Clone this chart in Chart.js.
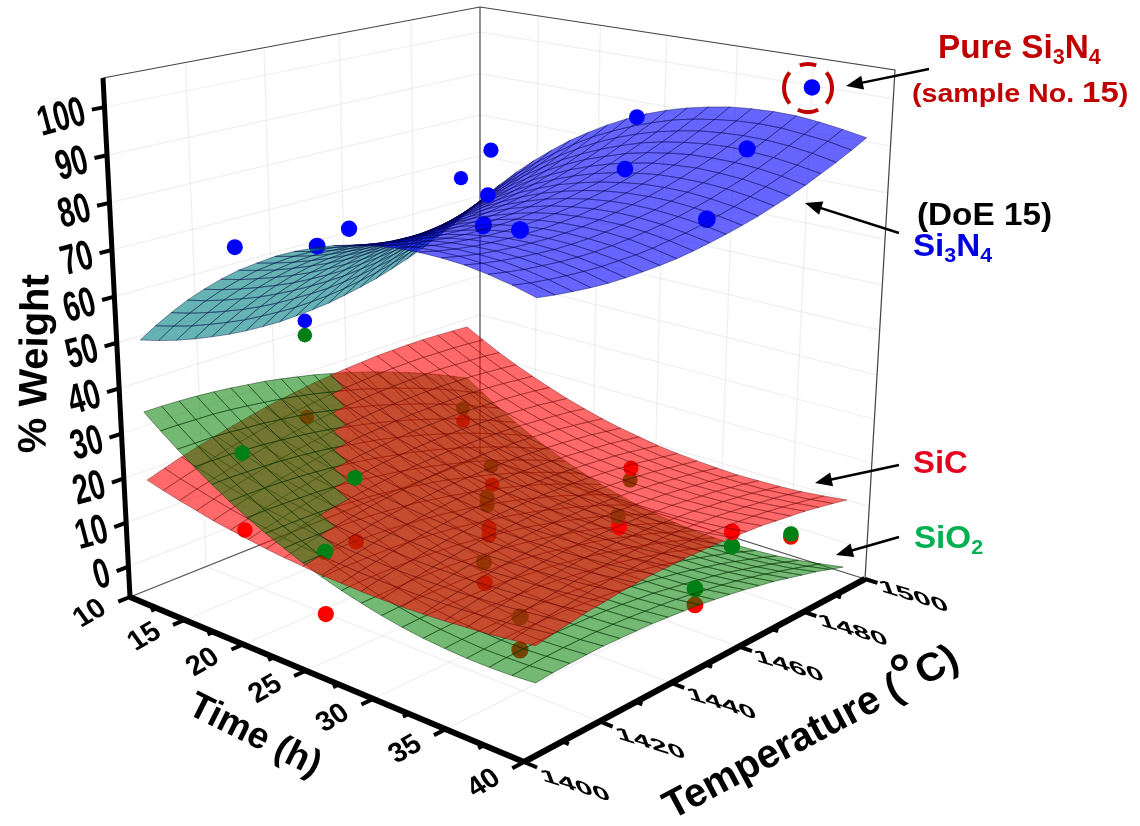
<!DOCTYPE html>
<html>
<head>
<meta charset="utf-8">
<style>html,body{margin:0;background:#fff}canvas{display:block}</style>
<script src="https://cdn.jsdelivr.net/npm/chart.js@4"></script>
</head>
<body>
<canvas id="c" width="1140" height="826"></canvas>
<script>
const weightTicks = [0, 10, 20, 30, 40, 50, 60, 70, 80, 90, 100];
const timeTicks = [10, 15, 20, 25, 30, 35, 40];
const tempTicks = [1400, 1420, 1440, 1460, 1480, 1500];

// grid of the fitted surfaces
const gridTime = [10.3, 11.76, 13.22, 14.68, 16.14, 17.6, 19.06, 20.52, 21.98, 23.44, 24.9, 26.36, 27.82, 29.28, 30.74, 32.2, 33.66, 35.12, 36.58, 38.04, 39.5];
const gridTemp = [1405, 1409.5, 1414, 1418.5, 1423, 1427.5, 1432, 1436.5, 1441, 1445.5, 1450, 1454.5, 1459, 1463.5, 1468, 1472.5, 1477, 1481.5, 1486, 1490.5, 1495];

// one row per gridTemp, one column per gridTime
const si3n4Surface = [
[49.5,53.5,57.2,60.7,63.8,66.7,69.3,71.5,73.6,75.3,76.7,77.9,78.7,79.3,79.6,79.6,79.3,78.8,77.9,76.8,75.4],
[48.2,52.3,56.0,59.5,62.7,65.6,68.3,70.6,72.7,74.4,75.9,77.1,78.0,78.6,79.0,79.0,78.8,78.3,77.5,76.4,75.1],
[47.1,51.2,55.0,58.6,61.8,64.8,67.4,69.8,71.9,73.7,75.3,76.5,77.5,78.1,78.5,78.6,78.4,78.0,77.2,76.2,74.9],
[46.2,50.4,54.2,57.8,61.1,64.1,66.8,69.2,71.3,73.2,74.8,76.0,77.0,77.8,78.2,78.3,78.2,77.8,77.1,76.1,74.8],
[45.5,49.7,53.5,57.1,60.5,63.5,66.3,68.7,70.9,72.8,74.4,75.7,76.8,77.5,78.0,78.2,78.1,77.7,77.0,76.1,74.8],
[44.9,49.1,53.0,56.7,60.0,63.1,65.9,68.4,70.6,72.5,74.2,75.6,76.6,77.4,77.9,78.2,78.1,77.7,77.1,76.2,75.0],
[44.5,48.8,52.7,56.4,59.8,62.9,65.7,68.2,70.5,72.5,74.1,75.5,76.6,77.5,78.0,78.3,78.2,77.9,77.3,76.5,75.3],
[44.3,48.6,52.6,56.3,59.7,62.8,65.7,68.2,70.5,72.5,74.2,75.7,76.8,77.7,78.2,78.5,78.5,78.2,77.7,76.8,75.7],
[44.2,48.5,52.6,56.3,59.7,62.9,65.8,68.4,70.7,72.7,74.5,75.9,77.1,78.0,78.6,78.9,78.9,78.7,78.2,77.3,76.2],
[44.4,48.7,52.7,56.5,60.0,63.2,66.1,68.7,71.0,73.1,74.9,76.3,77.5,78.5,79.1,79.4,79.5,79.3,78.8,78.0,76.9],
[44.7,49.0,53.1,56.9,60.4,63.6,66.5,69.2,71.5,73.6,75.4,76.9,78.1,79.1,79.7,80.1,80.2,80.0,79.5,78.7,77.7],
[45.1,49.5,53.6,57.4,60.9,64.2,67.1,69.8,72.2,74.3,76.1,77.6,78.9,79.8,80.5,80.9,81.0,80.8,80.3,79.6,78.6],
[45.8,50.2,54.3,58.1,61.6,64.9,67.9,70.6,73.0,75.1,76.9,78.5,79.7,80.7,81.4,81.8,81.9,81.8,81.3,80.6,79.6],
[46.6,51.0,55.1,59.0,62.5,65.8,68.8,71.5,73.9,76.1,77.9,79.5,80.7,81.7,82.4,82.9,83.0,82.9,82.4,81.7,80.7],
[47.5,52.0,56.1,60.0,63.6,66.9,69.9,72.6,75.0,77.2,79.0,80.6,81.9,82.9,83.6,84.1,84.2,84.1,83.7,83.0,82.0],
[48.7,53.2,57.3,61.2,64.8,68.1,71.1,73.8,76.3,78.4,80.3,81.9,83.2,84.2,85.0,85.4,85.6,85.4,85.0,84.3,83.3],
[50.0,54.5,58.7,62.6,66.2,69.5,72.5,75.2,77.7,79.9,81.8,83.3,84.7,85.7,86.4,86.9,87.0,86.9,86.5,85.8,84.8],
[51.5,56.0,60.2,64.1,67.7,71.0,74.1,76.8,79.3,81.4,83.3,84.9,86.3,87.3,88.0,88.5,88.7,88.5,88.1,87.4,86.5],
[53.2,57.7,61.9,65.8,69.4,72.7,75.8,78.5,81.0,83.2,85.1,86.7,88.0,89.0,89.8,90.2,90.4,90.3,89.9,89.2,88.2],
[55.0,59.5,63.7,67.6,71.3,74.6,77.6,80.4,82.9,85.0,86.9,88.5,89.9,90.9,91.6,92.1,92.3,92.2,91.7,91.1,90.1],
[57.1,61.6,65.8,69.7,73.3,76.6,79.7,82.4,84.9,87.1,89.0,90.6,91.9,92.9,93.7,94.1,94.3,94.2,93.7,93.0,92.1]
];
const sicSurface = [
[18.3,17.2,16.2,15.3,14.4,13.7,13.0,12.4,11.9,11.5,11.1,10.9,10.7,10.6,10.6,10.7,10.9,11.2,11.5,12.0,12.5],
[19.6,18.4,17.4,16.4,15.5,14.7,14.0,13.3,12.8,12.3,12.0,11.7,11.5,11.4,11.4,11.5,11.6,11.9,12.2,12.7,13.2],
[20.8,19.5,18.4,17.4,16.5,15.6,14.9,14.2,13.6,13.1,12.7,12.4,12.2,12.1,12.1,12.1,12.3,12.5,12.9,13.3,13.8],
[21.9,20.6,19.4,18.3,17.4,16.5,15.7,15.0,14.3,13.8,13.4,13.1,12.8,12.7,12.7,12.7,12.9,13.1,13.4,13.8,14.4],
[22.9,21.6,20.3,19.2,18.2,17.2,16.4,15.7,15.0,14.5,14.0,13.7,13.4,13.2,13.2,13.2,13.4,13.6,13.9,14.3,14.8],
[23.8,22.4,21.2,20.0,18.9,17.9,17.1,16.3,15.6,15.0,14.5,14.2,13.9,13.7,13.6,13.7,13.8,14.0,14.3,14.7,15.3],
[24.7,23.3,21.9,20.7,19.6,18.6,17.6,16.8,16.1,15.5,15.0,14.6,14.3,14.1,14.0,14.0,14.1,14.3,14.6,15.1,15.6],
[25.5,24.0,22.6,21.3,20.2,19.1,18.1,17.3,16.5,15.9,15.4,14.9,14.6,14.4,14.3,14.3,14.4,14.6,14.9,15.3,15.9],
[26.2,24.6,23.2,21.9,20.7,19.6,18.6,17.7,16.9,16.2,15.7,15.2,14.9,14.6,14.5,14.5,14.6,14.8,15.1,15.5,16.0],
[26.8,25.2,23.7,22.4,21.1,19.9,18.9,18.0,17.2,16.5,15.9,15.4,15.0,14.8,14.6,14.6,14.7,14.9,15.2,15.6,16.2],
[27.4,25.7,24.2,22.7,21.4,20.2,19.2,18.2,17.4,16.6,16.0,15.5,15.1,14.9,14.7,14.7,14.7,14.9,15.2,15.7,16.2],
[27.8,26.1,24.5,23.1,21.7,20.5,19.4,18.4,17.5,16.7,16.1,15.6,15.2,14.9,14.7,14.7,14.7,14.9,15.2,15.6,16.2],
[28.2,26.4,24.8,23.3,21.9,20.6,19.5,18.4,17.5,16.7,16.1,15.5,15.1,14.8,14.6,14.6,14.6,14.8,15.1,15.5,16.1],
[28.5,26.7,25.0,23.4,22.0,20.7,19.5,18.4,17.5,16.7,16.0,15.4,15.0,14.6,14.4,14.4,14.4,14.6,14.9,15.3,15.9],
[28.8,26.9,25.1,23.5,22.0,20.7,19.4,18.3,17.4,16.5,15.8,15.2,14.8,14.4,14.2,14.1,14.2,14.4,14.7,15.1,15.7],
[28.9,27.0,25.2,23.5,22.0,20.6,19.3,18.2,17.2,16.3,15.6,14.9,14.5,14.1,13.9,13.8,13.8,14.0,14.3,14.8,15.3],
[29.0,27.0,25.2,23.4,21.9,20.4,19.1,17.9,16.9,16.0,15.2,14.6,14.1,13.7,13.5,13.4,13.4,13.6,13.9,14.4,14.9],
[29.0,26.9,25.0,23.3,21.7,20.2,18.8,17.6,16.6,15.6,14.8,14.2,13.7,13.3,13.0,12.9,13.0,13.1,13.4,13.9,14.5],
[28.9,26.8,24.8,23.0,21.4,19.9,18.5,17.2,16.1,15.2,14.4,13.7,13.1,12.7,12.5,12.4,12.4,12.6,12.9,13.3,13.9],
[28.7,26.6,24.6,22.7,21.0,19.5,18.0,16.8,15.6,14.6,13.8,13.1,12.5,12.1,11.9,11.8,11.8,11.9,12.3,12.7,13.3],
[28.5,26.3,24.2,22.3,20.6,19.0,17.5,16.2,15.0,14.0,13.2,12.4,11.9,11.5,11.2,11.0,11.1,11.2,11.5,12.0,12.6]
];
const sio2Surface = [
[33.6,30.5,27.6,24.9,22.3,19.9,17.7,15.7,13.9,12.2,10.7,9.4,8.3,7.3,6.5,5.9,5.5,5.2,5.1,5.2,5.5],
[33.6,30.5,27.6,24.9,22.4,20.0,17.8,15.8,14.0,12.3,10.9,9.6,8.4,7.5,6.7,6.1,5.7,5.4,5.4,5.5,5.8],
[33.5,30.4,27.6,24.9,22.3,20.0,17.8,15.8,14.0,12.4,10.9,9.6,8.5,7.6,6.8,6.2,5.8,5.6,5.5,5.7,6.0],
[33.3,30.3,27.4,24.7,22.2,19.9,17.7,15.8,14.0,12.3,10.9,9.6,8.5,7.6,6.9,6.3,5.9,5.7,5.6,5.8,6.1],
[33.0,30.0,27.1,24.5,22.0,19.7,17.6,15.6,13.8,12.2,10.8,9.5,8.4,7.5,6.8,6.3,5.9,5.7,5.7,5.8,6.2],
[32.6,29.6,26.8,24.1,21.7,19.4,17.3,15.3,13.6,12.0,10.6,9.3,8.3,7.4,6.7,6.1,5.8,5.6,5.6,5.8,6.1],
[32.1,29.1,26.3,23.7,21.3,19.0,16.9,15.0,13.2,11.6,10.3,9.0,8.0,7.1,6.5,5.9,5.6,5.5,5.5,5.7,6.0],
[31.6,28.6,25.8,23.2,20.8,18.5,16.4,14.5,12.8,11.2,9.9,8.7,7.6,6.8,6.1,5.7,5.3,5.2,5.3,5.5,5.9],
[30.9,27.9,25.2,22.6,20.1,17.9,15.8,14.0,12.3,10.7,9.4,8.2,7.2,6.4,5.7,5.3,5.0,4.9,5.0,5.2,5.6],
[30.1,27.2,24.4,21.8,19.4,17.2,15.2,13.3,11.6,10.1,8.8,7.6,6.7,5.9,5.3,4.8,4.6,4.5,4.6,4.9,5.3],
[29.3,26.3,23.6,21.0,18.7,16.4,14.4,12.6,10.9,9.4,8.1,7.0,6.1,5.3,4.7,4.3,4.1,4.0,4.2,4.5,5.0],
[28.3,25.4,22.7,20.1,17.8,15.6,13.6,11.8,10.1,8.6,7.4,6.3,5.4,4.6,4.1,3.7,3.5,3.5,3.6,4.0,4.5],
[27.3,24.4,21.7,19.1,16.8,14.6,12.6,10.8,9.2,7.8,6.5,5.4,4.6,3.8,3.3,3.0,2.8,2.8,3.0,3.4,4.0],
[26.1,23.2,20.5,18.0,15.7,13.6,11.6,9.8,8.2,6.8,5.6,4.5,3.7,3.0,2.5,2.2,2.1,2.1,2.3,2.8,3.4],
[24.9,22.0,19.3,16.8,14.5,12.4,10.5,8.7,7.1,5.7,4.5,3.5,2.7,2.1,1.6,1.3,1.2,1.3,1.6,2.1,2.7],
[23.5,20.7,18.0,15.5,13.3,11.1,9.2,7.5,6.0,4.6,3.4,2.4,1.6,1.0,0.6,0.4,0.3,0.4,0.8,1.3,2.0],
[22.1,19.3,16.6,14.2,11.9,9.8,7.9,6.2,4.7,3.4,2.2,1.3,0.5,-0.1,-0.5,-0.7,-0.7,-0.5,-0.2,0.4,1.1],
[20.6,17.8,15.1,12.7,10.4,8.4,6.5,4.8,3.3,2.0,0.9,0.0,-0.8,-1.3,-1.6,-1.8,-1.8,-1.6,-1.2,-0.6,0.2],
[19.0,16.2,13.5,11.1,8.9,6.8,5.0,3.3,1.9,0.6,-0.5,-1.4,-2.1,-2.6,-2.9,-3.0,-2.9,-2.7,-2.2,-1.6,-0.7],
[17.2,14.4,11.8,9.4,7.2,5.2,3.4,1.7,0.3,-0.9,-2.0,-2.8,-3.5,-4.0,-4.2,-4.3,-4.2,-3.9,-3.4,-2.7,-1.8],
[15.4,12.7,10.1,7.7,5.5,3.5,1.7,0.1,-1.3,-2.5,-3.6,-4.4,-5.0,-5.4,-5.6,-5.7,-5.5,-5.2,-4.6,-3.8,-2.9]
];

// measured samples, 15 runs
const runTime = [17, 11.5, 24, 22, 13, 19.6, 22.6, 22.6, 28.6, 34.6, 26.5, 31, 38, 37, 35];
const si3n4Temp = [1410.4, 1444.3, 1408.8, 1423.4, 1484.2, 1469.9, 1458.2, 1457.1, 1434.7, 1420.9, 1485.5, 1463.6, 1456.0, 1471.6, 1500];
const si3n4Weight = [71.8, 44.4, 75.9, 75.5, 69.5, 82.3, 76.2, 70.1, 77.4, 82.2, 90.6, 85.3, 80.4, 91.5, 99.6];
const sio2Temp = [1410.4, 1444.2, 1408.9, 1423.6, 1484.6, 1470.0, 1457.9, 1457.9, 1434.7, 1421.1, 1485.8, 1463.4, 1455.7, 1471.3, 1500];
const sio2Weight = [28.2, 41.1, 13.8, 23.1, 13.1, 9.2, 8.6, 6.7, 7.6, 7.2, 7.2, 10.6, 4.7, 7.5, -1.9];
const sicTemp = [1410.4, 1444.2, 1408.7, 1423.6, 1484.6, 1470.3, 1458.5, 1458.5, 1435.0, 1421.1, 1486.0, 1463.8, 1455.8, 1471.2, 1500];
const sicWeight = [11.4, 21.9, 0.7, 9.2, 9.9, 4.6, 1.2, -0.5, 3.0, 0.5, 10.0, 8.0, 1.2, 10.7, -2.6];

// the 3D box: screen corner and depth of each corner, used only for the projection
const box = {
  L: [130, 597, 1.24], Fr: [524, 762, 1], R: [865, 579, 1.14], B: [480, 457, 1.38],
  TL: [103, 78, 1.17], TF: [525, 122, .93], TR: [895, 70, 1.07], TB: [480, 7, 1.31]
};
const zMin = -7, zMax = 106;

function project(t, T, z) {
  const u = (t - 10) / 30, v = (T - 1400) / 100, w = (z - zMin) / (zMax - zMin);
  const c = [[box.L, (1-u)*(1-v)*(1-w)], [box.Fr, u*(1-v)*(1-w)], [box.R, u*v*(1-w)], [box.B, (1-u)*v*(1-w)],
             [box.TL, (1-u)*(1-v)*w], [box.TF, u*(1-v)*w], [box.TR, u*v*w], [box.TB, (1-u)*v*w]];
  let x = 0, y = 0, d = 0;
  for (const [p, b] of c) { x += p[0]*p[2]*b; y += p[1]*p[2]*b; d += p[2]*b; }
  return { x: x/d, y: y/d, d };
}

// surfaces and samples go in one list, sorted by depth so they overlap properly
const items = [];
function addSurface(Z, top, under, mesh) {
  for (let j = 0; j < 20; j++) for (let i = 0; i < 20; i++) {
    const q = [project(gridTime[i], gridTemp[j], Z[j][i]), project(gridTime[i+1], gridTemp[j], Z[j][i+1]),
               project(gridTime[i+1], gridTemp[j+1], Z[j+1][i+1]), project(gridTime[i], gridTemp[j+1], Z[j+1][i])];
    let area = 0;
    for (let n = 0; n < 4; n++) { const m = (n+1) % 4; area += q[n].x*q[m].y - q[m].x*q[n].y; }
    items.push({
      depth: (q[0].d + q[1].d + q[2].d + q[3].d) / 4,
      ds: { data: [q[0], q[1], q[2], q[3], q[0]].map(p => ({x: p.x, y: p.y})), showLine: true, fill: 'shape',
            backgroundColor: area < 0 ? top : under, borderColor: mesh, borderWidth: .7, pointRadius: 0, tension: 0 }
    });
  }
}
function addSamples(temps, weights, color) {
  temps.forEach((T, i) => {
    const q = project(runTime[i], T, weights[i]);
    items.push({ depth: q.d, ds: { data: [{x: q.x, y: q.y}], showLine: false, pointRadius: 9.2 / q.d,
                                   pointBackgroundColor: color, pointBorderWidth: 0 } });
  });
}
addSurface(si3n4Surface, 'rgba(0,0,255,.6)', 'rgba(0,128,128,.6)', 'rgba(0,0,70,.6)');
addSurface(sicSurface, 'rgba(255,0,0,.59)', 'rgba(255,0,0,.59)', 'rgba(90,0,0,.55)');
addSurface(sio2Surface, 'rgba(0,128,0,.55)', 'rgba(0,128,0,.55)', 'rgba(0,40,0,.65)');
addSamples(si3n4Temp, si3n4Weight, '#0000ff');
addSamples(sio2Temp, sio2Weight, '#008014');
addSamples(sicTemp, sicWeight, '#ff0000');
items.sort((a, b) => a.depth - b.depth);

// Chart.js paints the first dataset last
const datasets = items.map(i => i.ds);
function line(pts, color, width) {
  datasets.push({ data: pts.map(p => { const q = project(p[0], p[1], p[2]); return {x: q.x, y: q.y}; }),
                  showLine: true, borderColor: color, borderWidth: width, pointRadius: 0, tension: 0, fill: false });
}
line([[10,1400,zMin],[40,1400,zMin]], '#000', 6);
line([[40,1400,zMin],[40,1500,zMin]], '#000', 6);
line([[10,1400,zMin],[10,1400,zMax]], '#000', 5);
weightTicks.forEach(z => line([[10,1400,z],[10,1397,z]], '#000', 4));
for (let t = 10; t <= 40; t += 2.5) line([[t,1400,zMin],[t, t % 5 ? 1398.5 : 1397, zMin]], '#000', 4);
for (let T = 1400; T <= 1500; T += 10) line([[40,T,zMin],[T % 20 ? 40.4 : 40.8, T, zMin]], '#000', 4);
line([[10,1400,zMax],[10,1500,zMax],[40,1500,zMax],[40,1500,zMin]], '#444', 1.2);
line([[10,1500,zMax],[10,1500,zMin]], '#555', 1.2);
line([[10,1400,zMin],[10,1500,zMin],[40,1500,zMin]], '#555', 1.2);
const gridColor = 'rgba(0,0,0,.055)';
weightTicks.forEach(z => line([[10,1400,z],[10,1500,z],[40,1500,z]], gridColor, 1.5));
tempTicks.forEach(T => line([[10,T,zMax],[10,T,zMin],[40,T,zMin]], gridColor, 1.5));
timeTicks.forEach(t => line([[t,1400,zMin],[t,1500,zMin],[t,1500,zMax]], gridColor, 1.5));

const FONT = '"Liberation Sans"';
function rot(deg, sx = 1, sy = 1) {
  const c = Math.cos(deg*Math.PI/180), s = Math.sin(deg*Math.PI/180);
  return [c*sx, s*sx, -s*sy, c*sy];
}
function text(ctx, s, x, y, size, color, m, align = 'center') {
  ctx.save();
  ctx.font = 'bold ' + size + 'px ' + FONT;
  ctx.fillStyle = color;
  ctx.textAlign = align;
  ctx.setTransform(m[0], m[1], m[2], m[3], x, y);
  ctx.fillText(s, 0, 0);
  ctx.restore();
}
function runs(ctx, parts, x, y, color, sx) {
  ctx.save();
  ctx.fillStyle = color;
  ctx.textAlign = 'left';
  let X = x;
  for (const [s, size, dy] of parts) {
    ctx.font = 'bold ' + size + 'px ' + FONT;
    ctx.setTransform(sx, 0, 0, 1, X, y + (dy || 0));
    ctx.fillText(s, 0, 0);
    X += ctx.measureText(s).width * sx;
  }
  ctx.restore();
}
function arrow(ctx, x0, y0, x1, y1) {
  const a = Math.atan2(y1-y0, x1-x0), h = 17, s = 7, ca = Math.cos(a), sa = Math.sin(a);
  ctx.save();
  ctx.strokeStyle = '#000'; ctx.fillStyle = '#000'; ctx.lineWidth = 2.5;
  ctx.beginPath(); ctx.moveTo(x0, y0); ctx.lineTo(x1 - h*.7*ca, y1 - h*.7*sa); ctx.stroke();
  ctx.beginPath(); ctx.moveTo(x1, y1);
  ctx.lineTo(x1 - h*ca + s*sa, y1 - h*sa - s*ca);
  ctx.lineTo(x1 - h*ca - s*sa, y1 - h*sa + s*ca);
  ctx.closePath(); ctx.fill();
  ctx.restore();
}

const labels = {
  id: 'labels',
  afterDraw(chart) {
    const ctx = chart.ctx;
    weightTicks.forEach(z => {
      const p = project(10, 1397, z);
      text(ctx, String(z), p.x - 4, p.y + 14, 42, '#000', rot(-15, .68, 1), 'right');
    });
    timeTicks.forEach(t => {
      const p = project(t, 1391, zMin), m = rot(-30, 1.05, 1);
      m[2] += .12;
      text(ctx, String(t), p.x, p.y + 9, 27, '#000', m);
    });
    tempTicks.forEach(T => {
      const p = project(43.2, T, zMin), m = rot(17, 1.2, 1);
      m[2] += .55; m[3] *= .72;
      text(ctx, String(T), p.x, p.y + 7, 27, '#000', m);
    });
    text(ctx, '% Weight', 47, 364, 40, '#000', rot(-89));
    text(ctx, 'Time (h)', 250, 745, 37, '#000', rot(26.6));

    // Temperature title, the degree sign is drawn larger
    const r = rot(-28);
    let X = 672, Y = 820;
    for (const [s, size, up] of [['Temperature (', 40, 0], ['°', 54, -3], ['C)', 40, 0]]) {
      ctx.save();
      ctx.font = 'bold ' + size + 'px ' + FONT;
      ctx.fillStyle = '#000';
      ctx.textAlign = 'left';
      ctx.setTransform(r[0], r[1], r[2], r[3], X, Y);
      ctx.fillText(s, 0, up);
      const w = ctx.measureText(s).width;
      ctx.restore();
      X += w * r[0]; Y += w * r[1];
    }

    const darkRed = '#c00000';
    runs(ctx, [['Pure Si', 34], ['3', 22, 6], ['N', 34], ['4', 22, 6]], 938, 58, darkRed, .98);
    runs(ctx, [['(sample No. ', 26], ['15', 30], [')', 26]], 912, 102, darkRed, 1.1);
    runs(ctx, [['(DoE 15)', 32]], 917, 225, '#000', 1.04);
    runs(ctx, [['Si', 31], ['3', 20, 6], ['N', 31], ['4', 20, 6]], 913, 256, '#0000e0', 1.07);
    runs(ctx, [['SiC', 31]], 913, 473, '#e60020', 1.06);
    runs(ctx, [['SiO', 31], ['2', 20, 6]], 914, 548, '#00b050', 1.07);

    ctx.save();
    ctx.strokeStyle = darkRed;
    ctx.lineWidth = 4;
    [[-40, 40], [65, 115], [140, 220], [250, 290]].forEach(a => {
      ctx.beginPath();
      ctx.arc(808, 88, 24, a[0]*Math.PI/180, a[1]*Math.PI/180);
      ctx.stroke();
    });
    ctx.restore();
    arrow(ctx, 929, 69, 846, 86);
    arrow(ctx, 899, 233, 805, 203);
    arrow(ctx, 899, 465, 815, 483);
    arrow(ctx, 899, 537, 836, 555);
  }
};

new Chart(document.getElementById('c'), {
  type: 'scatter',
  data: { datasets: datasets },
  plugins: [labels],
  options: {
    responsive: false,
    animation: false,
    events: [],
    clip: false,
    layout: { padding: 0, autoPadding: false },
    scales: {
      x: { type: 'linear', display: false, min: 0, max: 1140 },
      y: { type: 'linear', display: false, min: 0, max: 826, reverse: true }
    },
    plugins: { legend: { display: false }, tooltip: { enabled: false } }
  }
});
</script>
</body>
</html>
